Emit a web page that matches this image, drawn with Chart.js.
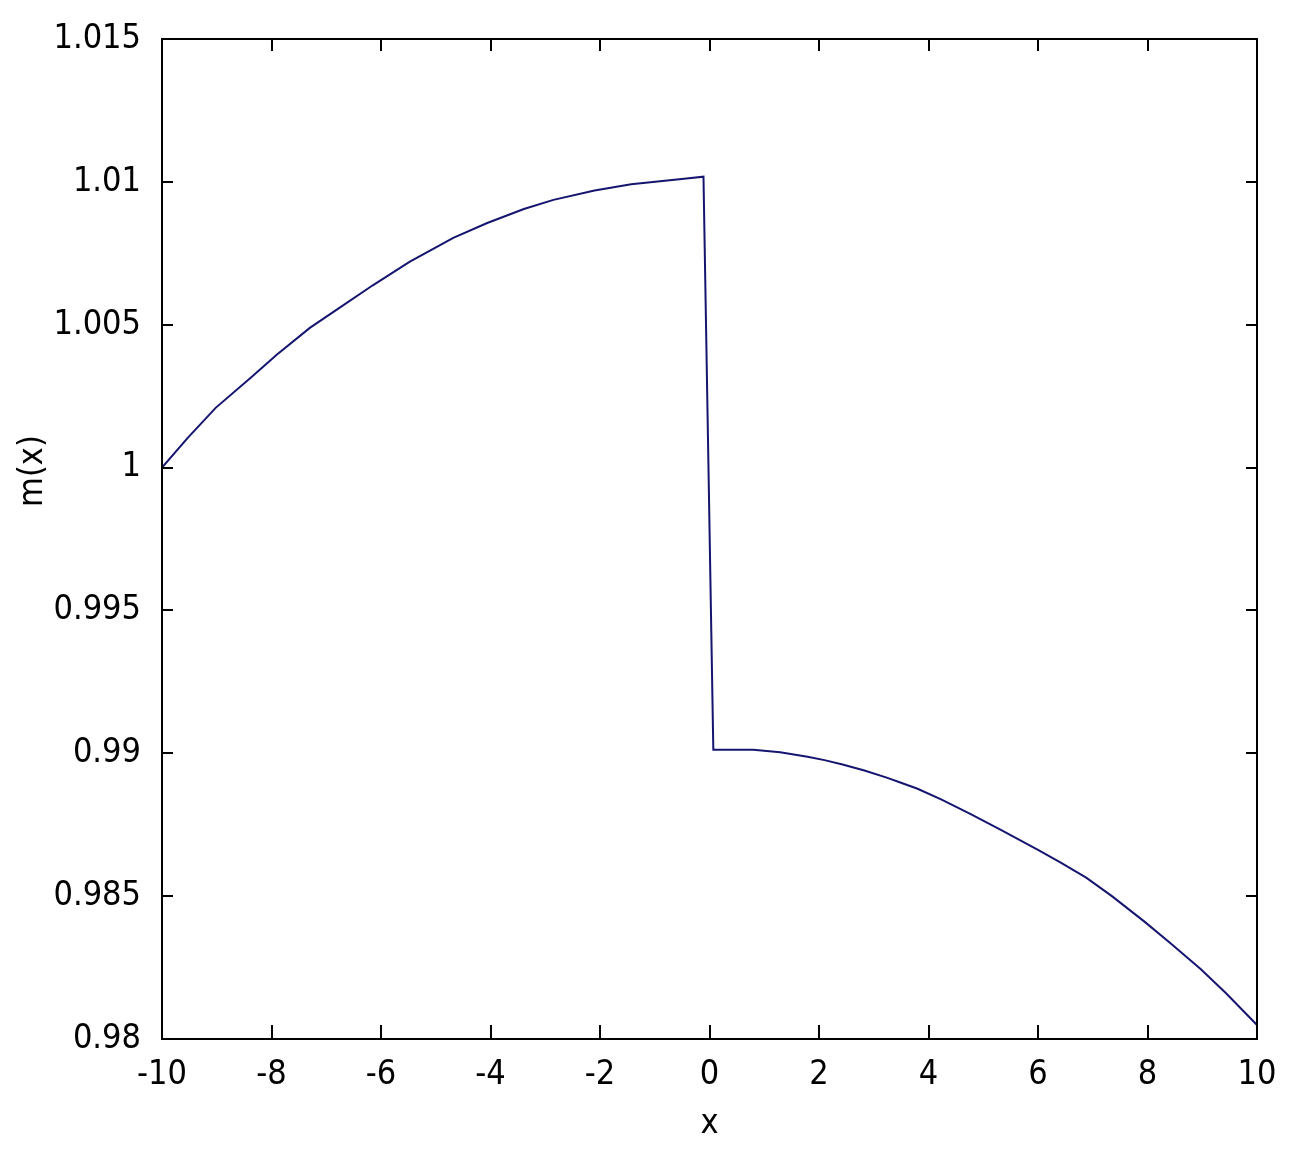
<!DOCTYPE html>
<html>
<head>
<meta charset="utf-8">
<title>m(x)</title>
<script src="https://cdn.jsdelivr.net/npm/chart.js@4.4.1/dist/chart.umd.min.js"></script>
<style>
  html, body { margin: 0; padding: 0; background: #ffffff; }
  #wrap { width: 1294px; height: 1151px; }
</style>
</head>
<body>
<div id="wrap"><canvas id="mChart" width="1294" height="1151"></canvas></div>
<script>
// --- data ---
// left branch (x < 0)
const xLeft = [-10, -9.53, -9.02, -8.38, -7.91, -7.30, -6.76, -6.15, -5.48, -4.68, -4.06, -3.39, -2.85, -2.10, -1.43, -0.42, -0.11];
const mLeft = [1.0000, 1.00104, 1.00209, 1.00314, 1.00394, 1.00489, 1.00559, 1.00638, 1.0072, 1.00804, 1.00856, 1.00905, 1.00937, 1.00970, 1.00992, 1.01012, 1.01018];

// right branch (x > 0)
const xRight = [0.07, 0.80, 1.29, 1.79, 2.10, 2.43, 2.83, 3.25, 3.51, 3.80, 4.24, 4.78, 5.33, 6.00, 6.40, 6.88, 7.35, 7.95, 8.42, 8.97, 9.43, 10.0];
const mRight = [0.99012, 0.99012, 0.99004, 0.98988, 0.98976, 0.98961, 0.98940, 0.98914, 0.98896, 0.98876, 0.98838, 0.98786, 0.98731, 0.98662, 0.98619, 0.98565, 0.98500, 0.98410, 0.98335, 0.98245, 0.98161, 0.98049];

// tick values
const xTicks = [-10, -8, -6, -4, -2, 0, 2, 4, 6, 8, 10];
const yTicks = [0.98, 0.985, 0.99, 0.995, 1, 1.005, 1.01, 1.015];

const FONT = "'Liberation Sans Narrow', 'DejaVu Sans Condensed', 'Liberation Sans', sans-serif";
const FONT_SIZE = 34;
const LINE_COLOR = '#151570';

// build points (one connected line, the jump included)
const points = xLeft.map((x, i) => ({ x: x, y: mLeft[i] }))
  .concat(xRight.map((x, i) => ({ x: x, y: mRight[i] })));

// box, inward ticks on all 4 sides and the y label (matlab look)
const matlabBox = {
  id: 'matlabBox',
  afterDraw(chart) {
    const ctx = chart.ctx;
    const a = chart.chartArea;
    const sx = chart.scales.x;
    const sy = chart.scales.y;
    ctx.save();
    ctx.strokeStyle = '#000000';
    ctx.lineWidth = 2;
    ctx.beginPath();
    xTicks.forEach(v => {
      const px = Math.round(sx.getPixelForValue(v));
      ctx.moveTo(px, a.bottom); ctx.lineTo(px, a.bottom - 14);
      ctx.moveTo(px, a.top); ctx.lineTo(px, a.top + 12);
    });
    yTicks.forEach(v => {
      const py = Math.round(sy.getPixelForValue(v));
      ctx.moveTo(a.left, py); ctx.lineTo(a.left + 11, py);
      ctx.moveTo(a.right, py); ctx.lineTo(a.right - 11, py);
    });
    ctx.stroke();
    ctx.strokeRect(a.left, a.top, a.right - a.left, a.bottom - a.top);

    // y label
    ctx.fillStyle = '#000000';
    ctx.font = FONT_SIZE + 'px ' + FONT;
    ctx.textAlign = 'center';
    ctx.textBaseline = 'middle';
    ctx.translate(33, 471);
    ctx.rotate(-Math.PI / 2);
    ctx.fillText('m(x)', 0, 0);
    ctx.restore();
  }
};

const ctx = document.getElementById('mChart').getContext('2d');
const mChart = new Chart(ctx, {
  type: 'line',
  data: {
    datasets: [{
      label: 'm(x)',
      data: points,
      borderColor: LINE_COLOR,
      borderWidth: 2,
      pointRadius: 0,
      tension: 0,
      fill: false
    }]
  },
  options: {
    responsive: false,
    animation: false,
    layout: { padding: { left: 0, top: 39, right: 37, bottom: 0 } },
    plugins: {
      legend: { display: false },
      tooltip: { enabled: false }
    },
    scales: {
      x: {
        type: 'linear',
        min: -10,
        max: 10,
        afterBuildTicks: s => { s.ticks = xTicks.map(v => ({ value: v })); },
        afterFit: s => { s.height = 112; },
        grid: { display: false },
        border: { display: false },
        ticks: {
          color: '#000000',
          font: { family: FONT, size: FONT_SIZE },
          padding: 8,
          maxRotation: 0,
          callback: v => String(v)
        },
        title: {
          display: true,
          text: 'x',
          color: '#000000',
          font: { family: FONT, size: FONT_SIZE },
          padding: { top: 0, bottom: 6 }
        }
      },
      y: {
        type: 'linear',
        min: 0.98,
        max: 1.015,
        afterBuildTicks: s => { s.ticks = yTicks.map(v => ({ value: v })); },
        afterFit: s => { s.width = 162; },
        grid: { display: false },
        border: { display: false },
        ticks: {
          color: '#000000',
          font: { family: FONT, size: FONT_SIZE },
          padding: 13,
          callback: v => String(parseFloat(Number(v).toFixed(3)))
        }
      }
    }
  },
  plugins: [matlabBox]
});
</script>
</body>
</html>
